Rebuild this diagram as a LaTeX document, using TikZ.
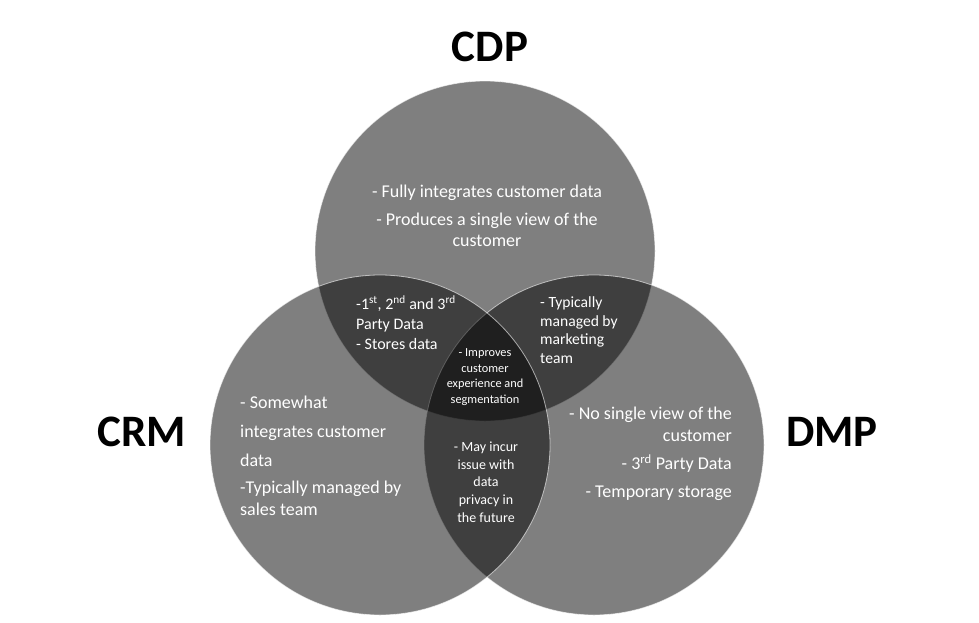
\documentclass[tikz,border=0pt]{standalone}
\usepackage{fontspec}
\setmainfont{Carlito}
\begin{document}
\begin{tikzpicture}[x=1pt,y=-1pt,
  setcircle/.style={fill=black,fill opacity=0.5,draw=white,draw opacity=0.6,line width=0.8pt},
  biglabel/.style={font=\fontsize{45}{50}\selectfont\bfseries,text=black,inner sep=0pt},
  wtext/.style={text=white,inner sep=0pt}]
\useasboundingbox (0,0) rectangle (979,622);
\fill[white] (0,0) rectangle (979,622);
% circles
\path[setcircle] (485,251) circle[radius=170];
\path[setcircle] (594,445) circle[radius=170];
\path[setcircle] (380,445) circle[radius=170];
% titles
\node[biglabel] (cdp) at (490,47) {CDP};
\node[biglabel] (crm) at (142,432) {CRM};
\node[biglabel] (dmp) at (832,432) {DMP};
% CDP only
\node[wtext,align=center,font=\fontsize{18}{21}\selectfont] (tcdp) at (487,216)
  {- Fully integrates customer data\\[7pt] - Produces a single view of the\\ customer};
% CRM only
\node[wtext,align=left,anchor=west,font=\fontsize{18}{29}\selectfont] (tcrm) at (240,456)
  {- Somewhat\\ integrates customer\\ data\\[-2pt] -Typically managed by\\[-7pt] sales team};
% DMP only
\node[wtext,align=right,anchor=east,font=\fontsize{18}{22}\selectfont] (tdmp) at (732,454)
  {- No single view of the\\ customer\\[6pt] - 3\textsuperscript{rd} Party Data\\[6pt] - Temporary storage};
% CDP & CRM
\node[wtext,align=left,anchor=west,font=\fontsize{16}{20}\selectfont] (tcdpcrm) at (356,323)
  {-1\textsuperscript{st}, 2\textsuperscript{nd} and 3\textsuperscript{rd}\\ Party Data\\ - Stores data};
% CDP & DMP
\node[wtext,align=left,anchor=west,font=\fontsize{15.6}{18.7}\selectfont] (tcdpdmp) at (540,330)
  {- Typically\\ managed by\\ marketing\\ team};
% center
\node[wtext,align=center,font=\fontsize{12.3}{15.7}\selectfont] (tall) at (485,377)
  {- Improves\\ customer\\ experience and\\ segmentation};
% CRM & DMP
\node[wtext,align=center,font=\fontsize{14}{17.7}\selectfont] (tcrmdmp) at (486,482)
  {- May incur\\ issue with\\ data\\ privacy in\\ the future};
\end{tikzpicture}
\end{document}
